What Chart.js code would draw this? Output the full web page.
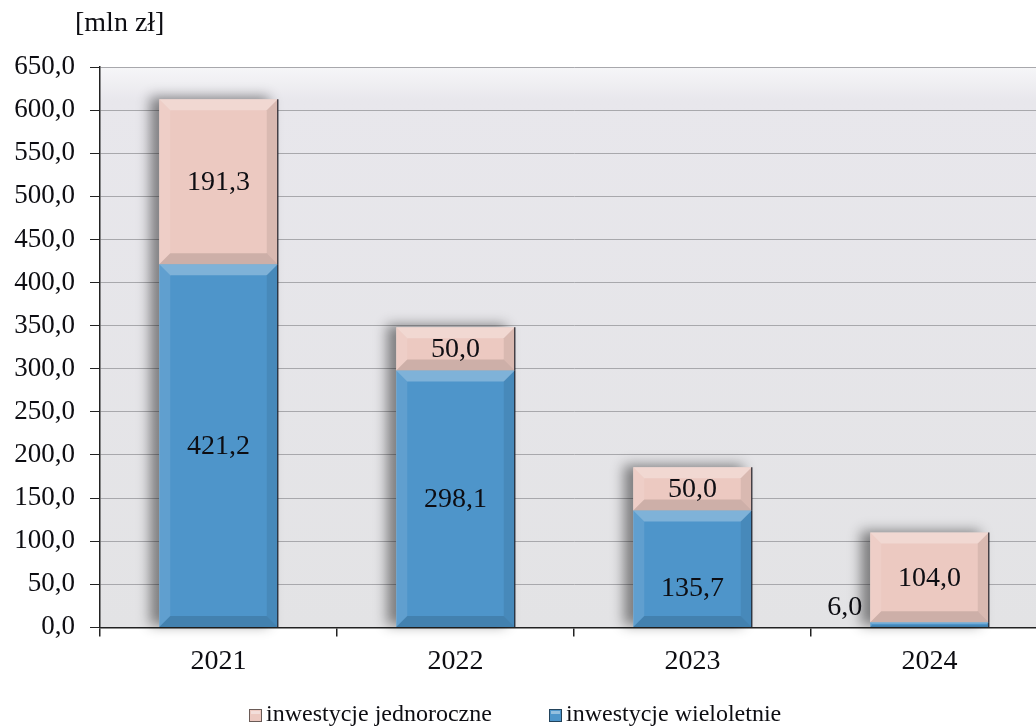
<!DOCTYPE html>
<html lang="pl">
<head>
<meta charset="utf-8">
<title>Inwestycje 2021-2024</title>
<script src="https://cdn.jsdelivr.net/npm/chart.js@4.4.1/dist/chart.umd.min.js"></script>
<style>
  html, body { margin: 0; padding: 0; background: #fff; overflow: hidden; }
  #wrap { width: 1050px; height: 726px; }
</style>
</head>
<body>
<div id="wrap"><canvas id="chart" width="1050" height="726"></canvas></div>
<script>
// Years and values in mln zł
const years = ['2021', '2022', '2023', '2024'];
const wieloletnie = [421.2, 298.1, 135.7, 6.0];
const jednoroczne = [191.3, 50.0, 50.0, 104.0];
const yTicks = [0, 50, 100, 150, 200, 250, 300, 350, 400, 450, 500, 550, 600, 650];

const SERIF = "'Liberation Serif', 'Times New Roman', serif";
const BLUE = '#4e95ca';
const PINK = '#ecc9c1';
const INK = '#0d0d12';

function fmt(v) {
  return v.toFixed(1).replace('.', ',');
}

// gray gradient behind the plot area
const plotBackground = {
  id: 'plotBackground',
  beforeDraw(chart) {
    const { ctx, chartArea: a } = chart;
    const g = ctx.createLinearGradient(0, a.top, 0, a.bottom);
    g.addColorStop(0, '#f6f6f8');
    g.addColorStop(0.06, '#e8e7ec');
    g.addColorStop(1, '#e3e3e5');
    ctx.save();
    ctx.fillStyle = g;
    ctx.fillRect(a.left, a.top, a.right - a.left, a.bottom - a.top);
    ctx.restore();
  }
};

// soft shadow to the left of each stacked column
const columnShadow = {
  id: 'columnShadow',
  beforeDatasetsDraw(chart) {
    const { ctx } = chart;
    const bottom = chart.getDatasetMeta(0).data;
    const top = chart.getDatasetMeta(1).data;
    ctx.save();
    ctx.shadowColor = 'rgba(0,0,0,0.45)';
    ctx.shadowBlur = 12;
    ctx.shadowOffsetX = -9;
    ctx.shadowOffsetY = -2;
    ctx.fillStyle = '#d0d0d0';
    bottom.forEach((bar, i) => {
      const b = bar.getProps(['x', 'y', 'base', 'width'], true);
      const t = top[i].getProps(['y'], true);
      ctx.fillRect(b.x - b.width / 2, t.y, b.width, b.base - t.y);
    });
    ctx.restore();
  }
};

// bevelled edges drawn over each bar segment
const bevel = {
  id: 'bevel',
  afterDatasetsDraw(chart) {
    const { ctx } = chart;
    ctx.save();
    chart.data.datasets.forEach((ds, di) => {
      chart.getDatasetMeta(di).data.forEach(bar => {
        const p = bar.getProps(['x', 'y', 'base', 'width'], true);
        const l = p.x - p.width / 2, r = p.x + p.width / 2;
        const t = Math.min(p.y, p.base), b = Math.max(p.y, p.base);
        const s = Math.min(11, (b - t) / 3, (r - l) / 3);
        const poly = (pts, col) => {
          ctx.beginPath();
          ctx.moveTo(pts[0][0], pts[0][1]);
          pts.slice(1).forEach(q => ctx.lineTo(q[0], q[1]));
          ctx.closePath();
          ctx.fillStyle = col;
          ctx.fill();
        };
        poly([[l, t], [r, t], [r - s, t + s], [l + s, t + s]], 'rgba(255,255,255,0.28)');
        poly([[l, t], [l + s, t + s], [l + s, b - s], [l, b]], 'rgba(255,255,255,0.10)');
        poly([[r, t], [r, b], [r - s, b - s], [r - s, t + s]], 'rgba(0,0,0,0.08)');
        poly([[l, b], [l + s, b - s], [r - s, b - s], [r, b]], 'rgba(0,0,0,0.13)');
        ctx.strokeStyle = 'rgba(20,20,30,0.75)';
        ctx.lineWidth = 1.5;
        ctx.beginPath();
        ctx.moveTo(r, t);
        ctx.lineTo(r, b);
        ctx.stroke();
      });
    });
    ctx.restore();
  }
};

// value labels; the tiny 2024 segment gets its label beside the column
const valueLabels = {
  id: 'valueLabels',
  afterDatasetsDraw(chart) {
    const { ctx } = chart;
    ctx.save();
    ctx.font = '28px ' + SERIF;
    ctx.fillStyle = INK;
    ctx.textBaseline = 'middle';
    chart.data.datasets.forEach((ds, di) => {
      chart.getDatasetMeta(di).data.forEach((bar, i) => {
        const p = bar.getProps(['x', 'y', 'base', 'width'], true);
        const v = ds.data[i];
        const h = Math.abs(p.base - p.y);
        if (h < 25) {
          ctx.textAlign = 'right';
          ctx.fillText(fmt(v), p.x - p.width / 2 - 8, p.base - 19);
        } else {
          // the 2023 multi-year label sits a little below the middle
          const shift = (di === 0 && i === 2) ? 20 : 1;
          ctx.textAlign = 'center';
          ctx.fillText(fmt(v), p.x, (p.y + p.base) / 2 + shift);
        }
      });
    });
    ctx.restore();
  }
};

// unit caption and legend under the axis
const extras = {
  id: 'extras',
  afterDraw(chart) {
    const { ctx } = chart;
    ctx.save();
    ctx.fillStyle = INK;
    ctx.textBaseline = 'middle';
    ctx.textAlign = 'left';
    ctx.font = '28px ' + SERIF;
    ctx.fillText('[mln zł]', 75, 24);

    const items = [
      { label: chart.data.datasets[1].label, color: PINK, x: 249 },
      { label: chart.data.datasets[0].label, color: BLUE, x: 549 }
    ];
    ctx.font = '24px ' + SERIF;
    items.forEach(it => {
      const y = 709;
      ctx.fillStyle = it.color;
      ctx.fillRect(it.x, y, 13, 13);
      ctx.strokeStyle = 'rgba(0,0,0,0.55)';
      ctx.lineWidth = 1;
      ctx.strokeRect(it.x + 0.5, y + 0.5, 12, 12);
      ctx.fillStyle = 'rgba(255,255,255,0.4)';
      ctx.fillRect(it.x + 2, y + 2, 9, 3);
      ctx.fillStyle = INK;
      ctx.fillText(it.label, it.x + 17, y + 6);
    });
    ctx.restore();
  }
};

new Chart(document.getElementById('chart'), {
  type: 'bar',
  data: {
    labels: years,
    datasets: [
      { label: 'inwestycje wieloletnie', data: wieloletnie, backgroundColor: BLUE, borderWidth: 0 },
      { label: 'inwestycje jednoroczne', data: jednoroczne, backgroundColor: PINK, borderWidth: 0 }
    ]
  },
  options: {
    responsive: false,
    animation: false,
    devicePixelRatio: 1,
    datasets: { bar: { barPercentage: 0.5, categoryPercentage: 1 } },
    layout: { padding: { top: 67, right: 2, left: 0, bottom: 40 } },
    plugins: {
      legend: { display: false },
      tooltip: { enabled: false }
    },
    scales: {
      x: {
        stacked: true,
        grid: { drawOnChartArea: false, tickLength: 9, tickColor: '#222', lineWidth: 1.5 },
        border: { color: '#222', width: 1.5 },
        ticks: { color: INK, padding: 8, font: { family: SERIF, size: 28 } }
      },
      y: {
        stacked: true,
        min: 0,
        max: 650,
        afterBuildTicks(scale) {
          scale.ticks = yTicks.map(v => ({ value: v }));
        },
        afterFit(scale) {
          scale.width = 100;
        },
        grid: { color: '#a8a8ac', lineWidth: 1, tickLength: 10, tickColor: '#222' },
        border: { color: '#222', width: 1.5 },
        ticks: {
          color: INK,
          padding: 15,
          font: { family: SERIF, size: 27 },
          callback: v => fmt(v)
        }
      }
    }
  },
  plugins: [plotBackground, columnShadow, bevel, valueLabels, extras]
});
</script>
</body>
</html>
